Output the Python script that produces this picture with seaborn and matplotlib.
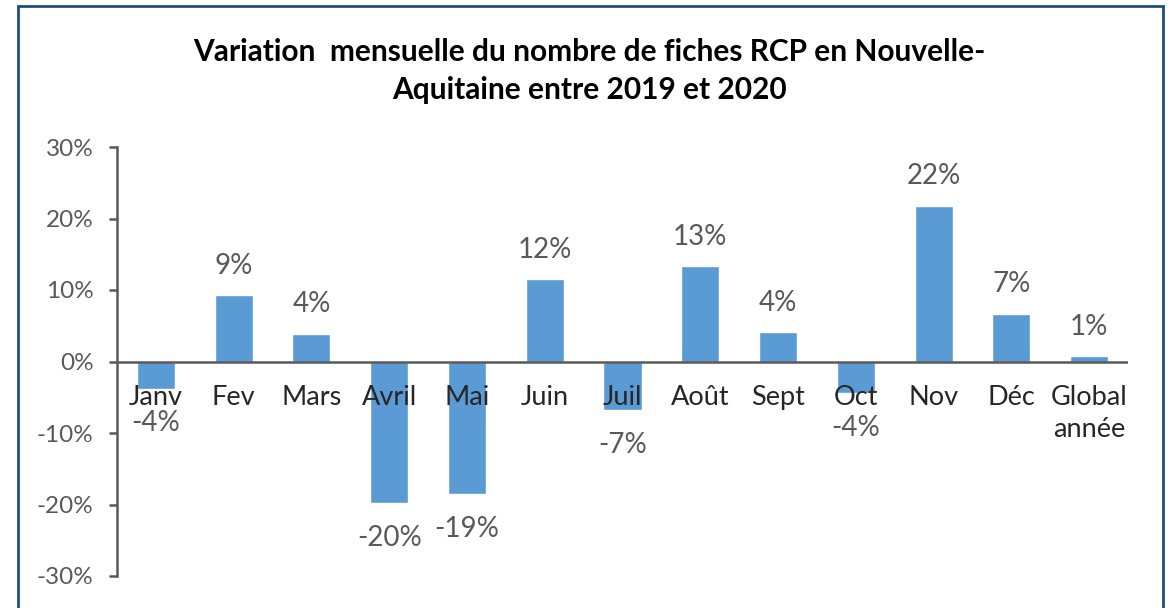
import matplotlib
matplotlib.use("Agg")
import matplotlib.pyplot as plt
import seaborn as sns
from matplotlib.patches import Rectangle

months = ["Janv", "Fev", "Mars", "Avril", "Mai", "Juin", "Juil", "Août",
          "Sept", "Oct", "Nov", "Déc", "Global\nannée"]
variation = [-3.8, 9.3, 3.9, -19.8, -18.6, 11.5, -6.8, 13.4, 4.1, -4.4, 21.8, 6.7, 0.8]
value_labels = ["-4%", "9%", "4%", "-20%", "-19%", "12%", "-7%", "13%",
                "4%", "-4%", "22%", "7%", "1%"]
yticks = [-30, -20, -10, 0, 10, 20, 30]

sns.set_theme(style="white")
plt.rcParams["font.family"] = ["Lato", "DejaVu Sans"]

gray = "#595959"
fig = plt.figure(figsize=(11.75, 6.08), dpi=100)
ax = fig.add_axes([117 / 1175, 1 - 576 / 608, (1128 - 117) / 1175, (576 - 147) / 608])

sns.barplot(x=list(range(len(months))), y=variation, color="#5B9BD5",
            saturation=1, width=0.49, ax=ax)

ax.set_ylim(-30, 30)
ax.set_xlim(-0.5, len(months) - 0.5)
ax.set_yticks(yticks)
ax.set_yticklabels([f"{t}%" for t in yticks], fontsize=17.5, color=gray)
ax.tick_params(axis="y", direction="out", length=6, width=1.8, color=gray,
               left=True, pad=11)
ax.set_xticks([])
for s in ["top", "right", "bottom"]:
    ax.spines[s].set_visible(False)
ax.spines["left"].set_color(gray)
ax.spines["left"].set_linewidth(1.8)
ax.axhline(0, color=gray, lw=1.8, zorder=3)

# category labels sitting on the zero line
for i, m in enumerate(months):
    ax.annotate(m, (i, 0), xytext=(0, -17), textcoords="offset points",
                ha="center", va="top", fontsize=19.5, color="#262626",
                linespacing=1.35, zorder=4)

# value labels
for i, (v, lab) in enumerate(zip(variation, value_labels)):
    off = 21 if v >= 0 else -25
    ax.annotate(lab, (i, v), xytext=(0, off), textcoords="offset points",
                ha="center", va="center", fontsize=20, color=gray)

fig.text(0.502, 1 - 52 / 608, "Variation  mensuelle du nombre de fiches RCP en Nouvelle-",
         ha="center", va="center", fontsize=21.5, fontweight="bold", color="black")
fig.text(0.502, 1 - 90 / 608, "Aquitaine entre 2019 et 2020",
         ha="center", va="center", fontsize=21.5, fontweight="bold", color="black")

fig.patches.append(Rectangle((18 / 1175, -0.1), (1163 - 18) / 1175, 1.1 - 6 / 608,
                             transform=fig.transFigure, fill=False,
                             edgecolor="#1F4E79", lw=2))

fig.savefig("out.png", dpi=100)
